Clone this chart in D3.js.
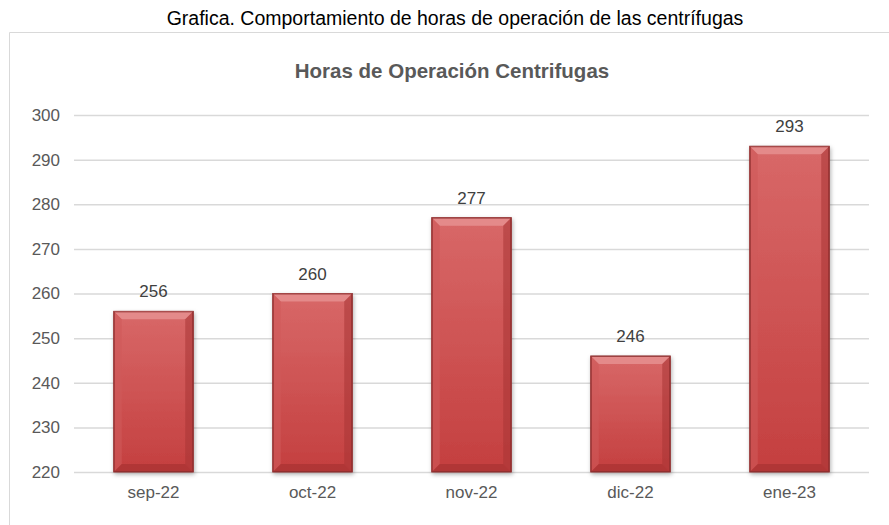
<!DOCTYPE html>
<html>
<head>
<meta charset="utf-8">
<script src="https://cdn.jsdelivr.net/npm/d3@7"></script>
<style>
  body { margin: 0; background: #fff; }
  svg { display: block; font-family: "Liberation Sans Narrow", "Arial Narrow", "Liberation Sans", sans-serif; }
</style>
</head>
<body>
<svg id="chart" width="889" height="525"></svg>
<script>
// data
const months = ['sep-22', 'oct-22', 'nov-22', 'dic-22', 'ene-23'];
const hours = [256, 260, 277, 246, 293];
const yTicks = [220, 230, 240, 250, 260, 270, 280, 290, 300];

const svg = d3.select('#chart');
const margin = { top: 115, right: 20, bottom: 53, left: 74 };
const width = 869 - margin.left;
const height = 472 - margin.top;

// gradients for the bevelled bars
const defs = svg.append('defs');
const body = defs.append('linearGradient').attr('id', 'barBody')
  .attr('x1', 0).attr('y1', 0).attr('x2', 0).attr('y2', 1);
body.append('stop').attr('offset', '0%').attr('stop-color', '#d86868');
body.append('stop').attr('offset', '100%').attr('stop-color', '#c43f3f');

const shadow = defs.append('filter').attr('id', 'shadow')
  .attr('x', '-20%').attr('y', '-10%').attr('width', '140%').attr('height', '130%');
shadow.append('feDropShadow').attr('dx', 1).attr('dy', 2).attr('stdDeviation', 2)
  .attr('flood-color', '#000').attr('flood-opacity', 0.3);

// header and frame
svg.append('text')
  .attr('x', 455).attr('y', 25)
  .attr('text-anchor', 'middle')
  .style('font-size', '19.5px')
  .attr('fill', '#000')
  .text('Grafica. Comportamiento de horas de operación de las centrífugas');

svg.append('path')
  .attr('d', 'M9.5,525 V32.5 H889')
  .attr('fill', 'none')
  .attr('stroke', '#d9d9d9');

svg.append('text')
  .attr('x', 452).attr('y', 78)
  .attr('text-anchor', 'middle')
  .style('font-size', '20.5px')
  .style('font-weight', 'bold')
  .attr('fill', '#595959')
  .text('Horas de Operación Centrifugas');

const g = svg.append('g').attr('transform', `translate(${margin.left},${margin.top})`);

const x = d3.scaleBand().domain(months).range([0, width]).paddingInner(0.5).paddingOuter(0.25);
const y = d3.scaleLinear().domain([220, 300]).range([height, 0]);

// gridlines
g.append('g')
  .attr('class', 'grid')
  .call(d3.axisLeft(y).tickValues(yTicks).tickSize(-width).tickFormat(''))
  .call(a => a.select('.domain').remove())
  .call(a => a.selectAll('line').attr('stroke', '#d9d9d9').attr('stroke-width', 1.5));

// y axis labels
g.append('g')
  .call(d3.axisLeft(y).tickValues(yTicks).tickSize(0).tickPadding(14))
  .call(a => a.select('.domain').remove())
  .call(a => a.selectAll('text').attr('fill', '#595959').style('font-size', '17px')
    .style('font-family', '"Liberation Sans Narrow", "Arial Narrow", sans-serif'));

// x axis labels
g.append('g')
  .attr('transform', `translate(0,${height})`)
  .call(d3.axisBottom(x).tickSize(0).tickPadding(14))
  .call(a => a.select('.domain').remove())
  .call(a => a.selectAll('text').attr('fill', '#595959').style('font-size', '17px')
    .style('font-family', '"Liberation Sans Narrow", "Arial Narrow", sans-serif'));

// bars
const bevel = 8;
const bars = g.selectAll('g.bar')
  .data(months.map((m, i) => ({ month: m, value: hours[i] })))
  .enter().append('g')
  .attr('class', 'bar');

bars.append('rect')
  .attr('x', d => x(d.month))
  .attr('y', d => y(d.value))
  .attr('width', x.bandwidth())
  .attr('height', d => height - y(d.value))
  .attr('fill', 'url(#barBody)')
  .attr('stroke', '#8c2e2e')
  .attr('stroke-width', 1)
  .attr('filter', 'url(#shadow)');

// bevel faces: top light, sides and bottom darker
const face = (d, side) => {
  const x0 = x(d.month);
  const x1 = x0 + x.bandwidth();
  const y0 = y(d.value);
  const y1 = height;
  const b = bevel;
  if (side === 'top') return `M${x0},${y0}L${x1},${y0}L${x1 - b},${y0 + b}L${x0 + b},${y0 + b}Z`;
  if (side === 'left') return `M${x0},${y0}L${x0 + b},${y0 + b}L${x0 + b},${y1 - b}L${x0},${y1}Z`;
  if (side === 'right') return `M${x1},${y0}L${x1},${y1}L${x1 - b},${y1 - b}L${x1 - b},${y0 + b}Z`;
  return `M${x0},${y1}L${x0 + b},${y1 - b}L${x1 - b},${y1 - b}L${x1},${y1}Z`;
};

const faces = [
  { side: 'top', fill: '#e69090', opacity: 0.85 },
  { side: 'left', fill: '#cf5a5a', opacity: 0.6 },
  { side: 'right', fill: '#a83434', opacity: 0.55 },
  { side: 'bottom', fill: '#a33030', opacity: 0.6 },
];

faces.forEach((f) => {
  bars.append('path')
    .attr('d', d => face(d, f.side))
    .attr('fill', f.fill)
    .attr('fill-opacity', f.opacity);
});

bars.append('rect')
  .attr('x', d => x(d.month) + 0.5)
  .attr('y', d => y(d.value) + 0.5)
  .attr('width', x.bandwidth() - 1)
  .attr('height', d => height - y(d.value) - 1)
  .attr('fill', 'none')
  .attr('stroke', '#8c2e2e')
  .attr('stroke-opacity', 0.8);

// value labels
bars.append('text')
  .attr('x', d => x(d.month) + x.bandwidth() / 2)
  .attr('y', d => y(d.value) - 14)
  .attr('text-anchor', 'middle')
  .style('font-size', '17px')
  .attr('fill', '#404040')
  .text(d => d.value);
</script>
</body>
</html>
